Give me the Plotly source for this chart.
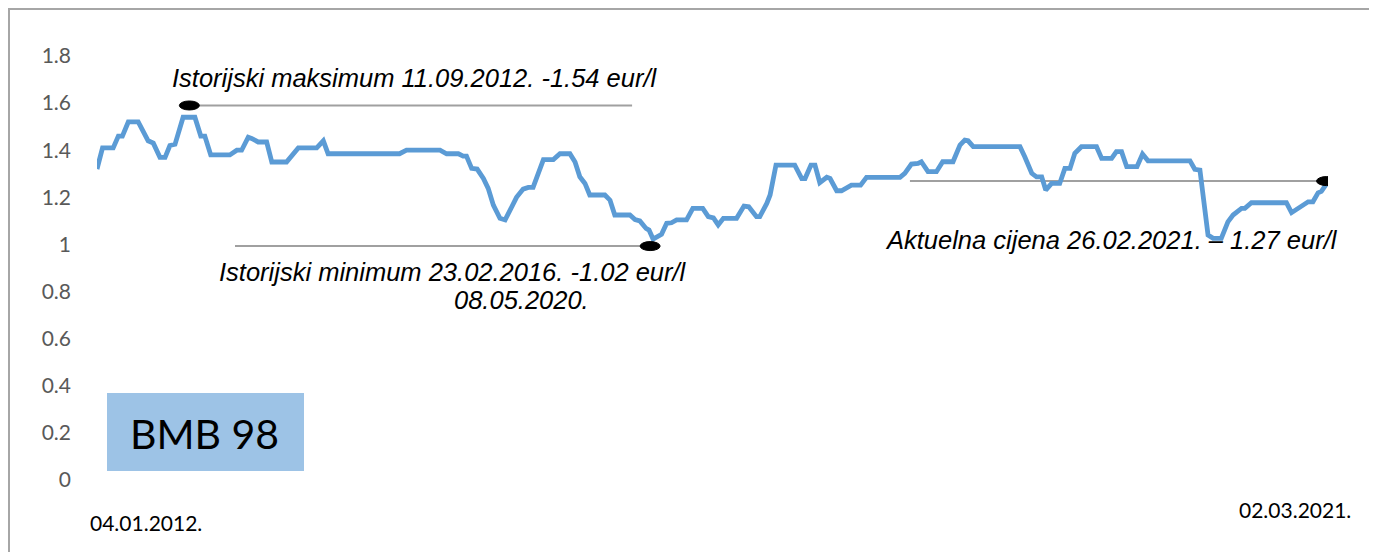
import plotly.graph_objects as go

# ---- data ----
dates = [
    "2012-01-04", "2012-01-19", "2012-02-17", "2012-03-02", "2012-03-13", "2012-03-29", "2012-04-25",
    "2012-05-22", "2012-06-05", "2012-06-23", "2012-07-07", "2012-07-20", "2012-08-03", "2012-08-25",
    "2012-09-26", "2012-10-12", "2012-10-23", "2012-11-08", "2012-12-30", "2013-01-18", "2013-01-31",
    "2013-02-18", "2013-02-27", "2013-03-17", "2013-04-09", "2013-04-23", "2013-06-02", "2013-07-04",
    "2013-08-23", "2013-09-10", "2013-09-23", "2014-04-05", "2014-04-24", "2014-07-24", "2014-08-11",
    "2014-09-12", "2014-09-25", "2014-10-04", "2014-10-18", "2014-11-02", "2014-11-19", "2014-12-02",
    "2014-12-16", "2015-01-03", "2015-01-17", "2015-01-30", "2015-02-17", "2015-03-07", "2015-03-21",
    "2015-04-03", "2015-05-01", "2015-05-28", "2015-06-15", "2015-07-12", "2015-07-26", "2015-08-08",
    "2015-08-22", "2015-09-04", "2015-10-15", "2015-10-29", "2015-11-11", "2015-12-22", "2016-01-05",
    "2016-01-18", "2016-02-04", "2016-02-12", "2016-02-23", "2016-03-17", "2016-03-31", "2016-04-13",
    "2016-04-27", "2016-05-24", "2016-06-10", "2016-07-07", "2016-07-22", "2016-08-05", "2016-08-18",
    "2016-09-01", "2016-10-07", "2016-10-27", "2016-11-09", "2016-11-30", "2016-12-09", "2016-12-28",
    "2017-01-06", "2017-01-22", "2017-03-14", "2017-04-02", "2017-04-11", "2017-04-27", "2017-05-08",
    "2017-05-21", "2017-06-09", "2017-06-18", "2017-07-06", "2017-07-19", "2017-08-15", "2017-09-09",
    "2017-09-25", "2017-12-25", "2018-01-07", "2018-01-25", "2018-02-12", "2018-02-21", "2018-03-11",
    "2018-04-03", "2018-04-20", "2018-05-18", "2018-06-06", "2018-06-19", "2018-06-28", "2018-07-12",
    "2018-11-16", "2018-11-29", "2018-12-18", "2018-12-31", "2019-01-14", "2019-01-25", "2019-02-10",
    "2019-03-04", "2019-03-18", "2019-04-01", "2019-04-14", "2019-05-02", "2019-06-12", "2019-06-26",
    "2019-07-23", "2019-08-05", "2019-08-19", "2019-09-02", "2019-09-30", "2019-10-15", "2019-10-30",
    "2020-02-21", "2020-03-05", "2020-03-19", "2020-03-30", "2020-04-10", "2020-04-24", "2020-05-16",
    "2020-06-03", "2020-06-17", "2020-07-10", "2020-07-19", "2020-08-06", "2020-11-09", "2020-11-23",
    "2020-12-06", "2020-12-24", "2021-01-07", "2021-01-20", "2021-02-03", "2021-02-12", "2021-03-02",
]
prices = [
    1.32, 1.41, 1.41, 1.46, 1.46, 1.52, 1.52,
    1.44, 1.43, 1.37, 1.37, 1.42, 1.425, 1.54,
    1.54, 1.46, 1.46, 1.38, 1.38, 1.40, 1.40,
    1.455, 1.45, 1.435, 1.435, 1.35, 1.35, 1.41,
    1.41, 1.44, 1.385, 1.385, 1.40, 1.40, 1.385,
    1.385, 1.375, 1.375, 1.323, 1.32, 1.28, 1.238,
    1.167, 1.111, 1.104, 1.146, 1.20, 1.235, 1.242,
    1.242, 1.36, 1.36, 1.385, 1.385, 1.35, 1.287,
    1.259, 1.21, 1.21, 1.188, 1.125, 1.125, 1.106,
    1.10, 1.068, 1.061, 1.023, 1.043, 1.09, 1.092,
    1.104, 1.104, 1.153, 1.153, 1.118, 1.113, 1.083,
    1.111, 1.111, 1.163, 1.16, 1.118, 1.118, 1.174,
    1.21, 1.337, 1.337, 1.28, 1.28, 1.337, 1.337,
    1.262, 1.285, 1.28, 1.228, 1.228, 1.252, 1.252,
    1.285, 1.285, 1.302, 1.341, 1.344, 1.351, 1.309,
    1.309, 1.351, 1.351, 1.422, 1.443, 1.44, 1.415,
    1.415, 1.372, 1.302, 1.287, 1.287, 1.231, 1.259,
    1.259, 1.323, 1.323, 1.387, 1.415, 1.415, 1.365,
    1.365, 1.394, 1.394, 1.33, 1.33, 1.384, 1.355,
    1.355, 1.319, 1.316, 1.174, 1.04, 1.026, 1.026,
    1.096, 1.125, 1.153, 1.153, 1.177, 1.177, 1.135,
    1.149, 1.163, 1.181, 1.181, 1.219, 1.225, 1.266,
]

x_start, x_end = "2012-01-04", "2021-03-02"
x_labels = ["04.01.2012.", "02.03.2021."]
y_ticks = [0, 0.2, 0.4, 0.6, 0.8, 1, 1.2, 1.4, 1.6, 1.8]

# marker callouts: (marker date, marker value, line start date, text)
callout_max = ("2012-09-11", 1.59, "2015-12-28", "Istorijski maksimum 11.09.2012. -1.54 eur/l")
callout_min = ("2016-02-15", 0.993, "2013-01-13", "Istorijski minimum 23.02.2016. -1.02 eur/l")
callout_min2 = "08.05.2020."
callout_now = ("2021-02-26", 1.269, "2018-01-21", "Aktuelna cijena 26.02.2021. – 1.27 eur/l")
badge = "BMB 98"

# page offset of the plot div (body margin) is 8 px
OFF = 8
W, H = 1377, 552
L, R, T, B = 97 - OFF, 1377 - (1328 - OFF), 56 - OFF, 552 - (480 - OFF)
pw, ph = W - L - R, H - T - B


def px(x):
    return (x - OFF - L) / pw


def py(y):
    return (H - B - (y - OFF)) / ph


fig = go.Figure()
fig.add_trace(go.Scatter(
    x=dates, y=prices, mode="lines",
    line=dict(color="#5B9BD5", width=4.8),
    hoverinfo="skip", showlegend=False,
))

shapes = []
annotations = []

# outer frame
shapes.append(dict(type="rect", xref="paper", yref="paper",
                   x0=px(9), x1=px(1372), y0=py(570), y1=py(9),
                   line=dict(color="#A6A6A6", width=2), fillcolor="rgba(0,0,0,0)", layer="below"))

for (md, mv, ld, _t) in (callout_max, callout_min, callout_now):
    shapes.append(dict(type="line", xref="x", yref="y", x0=ld, x1=md, y0=mv, y1=mv,
                       line=dict(color="#A0A0A0", width=2), layer="below"))
    shapes.append(dict(type="circle", xref="x", yref="y", xsizemode="pixel", ysizemode="pixel",
                       xanchor=md, yanchor=mv, x0=-10, x1=10, y0=-4.5, y1=4.5,
                       fillcolor="black", line=dict(color="black", width=1)))

# badge box
shapes.append(dict(type="rect", xref="paper", yref="paper",
                   x0=px(107), x1=px(304), y0=py(471), y1=py(393),
                   fillcolor="#9DC3E6", line=dict(width=0), layer="below"))

ital = dict(family="Liberation Sans, Arial", size=25.5, color="#000000")
annotations += [
    dict(text="<i>" + callout_max[3] + "</i>", xref="paper", yref="paper", x=px(415), y=py(78),
         xanchor="center", yanchor="middle", showarrow=False, font=ital),
    dict(text="<i>" + callout_min[3] + "</i>", xref="paper", yref="paper", x=px(453), y=py(272),
         xanchor="center", yanchor="middle", showarrow=False, font=ital),
    dict(text="<i>" + callout_min2 + "</i>", xref="paper", yref="paper", x=px(521), y=py(300),
         xanchor="center", yanchor="middle", showarrow=False, font=ital),
    dict(text="<i>" + callout_now[3] + "</i>", xref="paper", yref="paper", x=px(1111), y=py(240),
         xanchor="center", yanchor="middle", showarrow=False, font=ital),
    dict(text=badge, xref="paper", yref="paper", x=px(204), y=py(433),
         xanchor="center", yanchor="middle", showarrow=False,
         font=dict(family="Lato, Open Sans", size=41, color="#000000")),
    dict(text=x_labels[0], xref="paper", yref="paper", x=px(146), y=py(522),
         xanchor="center", yanchor="middle", showarrow=False,
         font=dict(family="Lato, Open Sans", size=21, color="#000000")),
    dict(text=x_labels[1], xref="paper", yref="paper", x=px(1295), y=py(510),
         xanchor="center", yanchor="middle", showarrow=False,
         font=dict(family="Lato, Open Sans", size=21, color="#000000")),
]

fig.update_layout(
    width=W, height=H,
    margin=dict(l=L, r=R, t=T, b=B, pad=0),
    paper_bgcolor="white", plot_bgcolor="white",
    shapes=shapes, annotations=annotations,
    xaxis=dict(range=[x_start, x_end], showgrid=False, zeroline=False, showline=False,
               showticklabels=False, ticks=""),
    yaxis=dict(range=[0, 1.8], tickvals=y_ticks, showgrid=False, zeroline=False, showline=False,
               ticks="", ticklabelstandoff=25,
               tickfont=dict(family="Lato, Open Sans", size=21, color="#595959")),
)

fig.write_html("out.html")
